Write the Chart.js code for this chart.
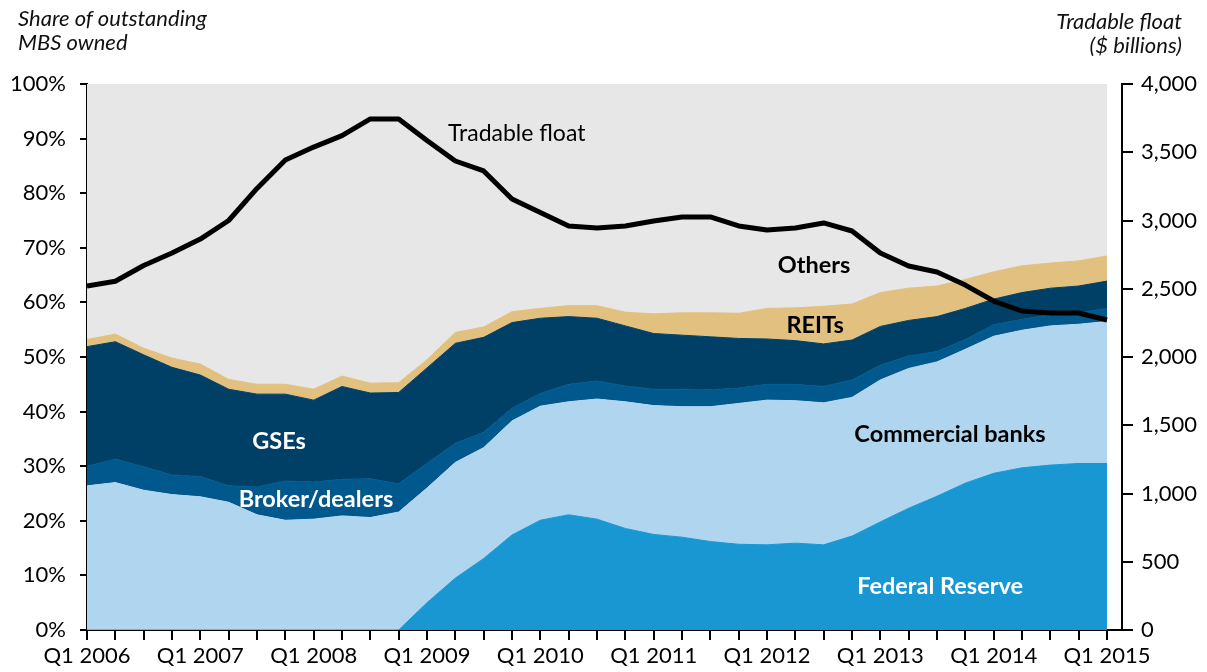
<!DOCTYPE html>
<html>
<head>
<meta charset="utf-8">
<script src="https://cdn.jsdelivr.net/npm/chart.js@4.4.1/dist/chart.umd.min.js"></script>
<style>
  html, body { margin: 0; padding: 0; background: #fff; }
  #wrap { position: relative; width: 1207px; height: 672px; }
  .ttl {
    position: absolute;
    font-family: Lato, "Open Sans", sans-serif;
    font-style: italic;
    font-size: 22px;
    line-height: 24px;
    color: #111;
  }
</style>
</head>
<body>
<div id="wrap">
  <canvas id="chart" width="1207" height="672"></canvas>
  <div class="ttl" style="left:18px; top:6px;">Share of outstanding<br>MBS owned</div>
  <div class="ttl" style="right:25px; top:9px; text-align:right;">Tradable float<br>($ billions)</div>
</div>
<script>
"use strict";

var quarters = [
  "Q1 2006", "Q2 2006", "Q3 2006", "Q4 2006",
  "Q1 2007", "Q2 2007", "Q3 2007", "Q4 2007",
  "Q1 2008", "Q2 2008", "Q3 2008", "Q4 2008",
  "Q1 2009", "Q2 2009", "Q3 2009", "Q4 2009",
  "Q1 2010", "Q2 2010", "Q3 2010", "Q4 2010",
  "Q1 2011", "Q2 2011", "Q3 2011", "Q4 2011",
  "Q1 2012", "Q2 2012", "Q3 2012", "Q4 2012",
  "Q1 2013", "Q2 2013", "Q3 2013", "Q4 2013",
  "Q1 2014", "Q2 2014", "Q3 2014", "Q4 2014",
  "Q1 2015"
];

// share of outstanding MBS, percent
var federalReserve = [0, 0, 0, 0, 0, 0, 0, 0, 0, 0, 0, 0, 5.0, 9.5, 13.1, 17.4, 20.1, 21.1, 20.3, 18.6, 17.5, 17.0, 16.2, 15.7, 15.6, 15.9, 15.6, 17.2, 19.8, 22.3, 24.5, 26.9, 28.7, 29.7, 30.2, 30.5, 30.5];
var commercialBanks = [26.4, 27.0, 25.6, 24.8, 24.4, 23.4, 21.1, 20.1, 20.3, 20.9, 20.6, 21.6, 21.0, 21.2, 20.3, 20.9, 20.9, 20.7, 22.0, 23.2, 23.6, 23.9, 24.7, 25.8, 26.5, 26.1, 26.0, 25.4, 26.0, 25.6, 24.6, 24.5, 25.1, 25.2, 25.5, 25.5, 26.0];
var brokerDealers = [3.6, 4.3, 4.3, 3.6, 3.7, 3.0, 5.1, 7.2, 6.8, 6.7, 7.1, 5.2, 4.5, 3.5, 2.8, 2.3, 2.3, 3.2, 3.3, 2.9, 3.0, 3.2, 3.1, 2.8, 2.9, 3.0, 3.0, 3.2, 2.7, 2.3, 1.9, 1.8, 2.1, 2.0, 2.0, 2.1, 2.4];
var gses = [21.9, 21.5, 20.5, 19.7, 18.6, 17.7, 17.0, 15.9, 15.0, 17.0, 15.7, 16.7, 17.5, 18.3, 17.4, 15.7, 13.8, 12.4, 11.5, 11.0, 10.2, 9.9, 9.7, 9.1, 8.3, 8.0, 7.8, 7.3, 7.1, 6.5, 6.4, 5.7, 4.7, 4.9, 4.9, 4.9, 5.0];
var reits = [1.3, 1.4, 1.2, 1.7, 2.0, 1.8, 1.8, 1.8, 2.0, 1.9, 1.8, 1.8, 1.5, 2.0, 1.9, 2.0, 1.8, 2.0, 2.3, 2.5, 3.6, 4.1, 4.4, 4.6, 5.6, 6.0, 6.9, 6.6, 6.2, 5.9, 5.6, 5.3, 5.0, 4.9, 4.6, 4.6, 4.6];
var others = [46.8, 45.8, 48.4, 50.2, 51.3, 54.1, 55.0, 55.0, 55.9, 53.5, 54.8, 54.7, 50.5, 45.5, 44.5, 41.7, 41.1, 40.6, 40.6, 41.8, 42.1, 41.9, 41.9, 42.0, 41.1, 41.0, 40.7, 40.3, 38.2, 37.4, 37.0, 35.8, 34.4, 33.3, 32.8, 32.4, 31.5];

// $ billions, right axis
var tradableFloat = [2520, 2555, 2670, 2762, 2864, 3000, 3235, 3443, 3538, 3622, 3744, 3744, 3586, 3436, 3363, 3158, 3058, 2960, 2945, 2960, 2996, 3026, 3026, 2960, 2930, 2945, 2982, 2923, 2762, 2667, 2623, 2527, 2410, 2337, 2322, 2322, 2271];

var FONT = "Lato, 'Open Sans', sans-serif";

function pts(arr) {
  return arr.map(function (v, i) { return { x: i, y: v }; });
}

function area(label, arr, color, fill) {
  return {
    label: label,
    data: pts(arr),
    yAxisID: "y",
    stack: "mbs",
    backgroundColor: color,
    borderColor: color,
    borderWidth: 1,
    pointRadius: 0,
    tension: 0,
    fill: fill,
    order: 1,
  };
}

// text labels placed in data coordinates (quarter index, percent)
var notes = [
  { text: "Tradable float", x: 12.74, y: 91.0, size: 23, bold: false, color: "#000", align: "left" },
  { text: "Others", x: 25.66, y: 66.85, size: 23.5, bold: true, color: "#000", align: "center" },
  { text: "REITs", x: 25.7, y: 55.86, size: 23.5, bold: true, color: "#000", align: "center" },
  { text: "GSEs", x: 6.78, y: 34.6, size: 23.5, bold: true, color: "#fff", align: "center" },
  { text: "Broker/dealers", x: 8.08, y: 24.0, size: 23.5, bold: true, color: "#fff", align: "center" },
  { text: "Commercial banks", x: 30.46, y: 35.9, size: 23.5, bold: true, color: "#000", align: "center" },
  { text: "Federal Reserve", x: 30.11, y: 7.9, size: 23.5, bold: true, color: "#fff", align: "center" },
];

var notesPlugin = {
  id: "notes",
  afterDatasetsDraw: function (chart) {
    var ctx = chart.ctx;
    var sx = chart.scales.x, sy = chart.scales.y;
    ctx.save();
    ctx.textBaseline = "middle";
    notes.forEach(function (n) {
      ctx.font = (n.bold ? "bold " : "") + n.size + "px " + FONT;
      ctx.fillStyle = n.color;
      ctx.textAlign = n.align;
      ctx.fillText(n.text, sx.getPixelForValue(n.x), sy.getPixelForValue(n.y));
    });
    ctx.restore();
  },
};

var tickFont = { family: FONT, size: 22 };

new Chart(document.getElementById("chart"), {
  type: "line",
  data: {
    datasets: [
      {
        label: "Tradable float",
        data: pts(tradableFloat),
        yAxisID: "y1",
        borderColor: "#000",
        borderWidth: 5,
        borderJoinStyle: "round",
        pointRadius: 0,
        tension: 0,
        fill: false,
        order: 0,
      },
      area("Federal Reserve", federalReserve, "#1897d3", "origin"),
      area("Commercial banks", commercialBanks, "#b0d5ef", "-1"),
      area("Broker/dealers", brokerDealers, "#00588c", "-1"),
      area("GSEs", gses, "#014066", "-1"),
      area("REITs", reits, "#e1c080", "-1"),
      area("Others", others, "#e7e7e7", "-1"),
    ],
  },
  options: {
    responsive: false,
    animation: false,
    layout: { padding: { top: 84, left: 0, right: 0, bottom: 0 } },
    plugins: {
      legend: { display: false },
      tooltip: { enabled: false },
    },
    scales: {
      x: {
        type: "linear",
        position: "bottom",
        min: 0,
        max: 36.53,
        grid: { drawOnChartArea: false, drawTicks: true, tickLength: 10, color: "#000", lineWidth: 2 },
        border: { display: true, color: "#000", width: 2 },
        ticks: {
          stepSize: 1,
          autoSkip: false,
          includeBounds: false,
          maxTicksLimit: 100,
          maxRotation: 0,
          padding: 3,
          color: "#000",
          font: tickFont,
          callback: function (v) {
            var q = quarters[Math.round(v)];
            return q && q.indexOf("Q1") === 0 ? q : "";
          },
        },
        afterFit: function (s) { s.height = 42; },
      },
      y: {
        type: "linear",
        position: "left",
        stacked: true,
        min: 0,
        max: 100,
        grid: { drawOnChartArea: false, tickLength: 7, color: "#000", lineWidth: 2 },
        border: { display: true, color: "#000", width: 2 },
        ticks: {
          stepSize: 10,
          padding: 14,
          color: "#000",
          font: tickFont,
          callback: function (v) { return v + "%"; },
        },
        afterFit: function (s) { s.width = 87; },
      },
      y1: {
        type: "linear",
        position: "right",
        min: 0,
        max: 4000,
        grid: { drawOnChartArea: false, tickLength: 11, color: "#000", lineWidth: 2 },
        border: { display: true, color: "#000", width: 2 },
        ticks: {
          stepSize: 500,
          padding: 8,
          color: "#000",
          font: tickFont,
          callback: function (v) { return v.toLocaleString("en-US"); },
        },
        afterFit: function (s) { s.width = 85; },
      },
    },
  },
  plugins: [notesPlugin],
});
</script>
</body>
</html>
